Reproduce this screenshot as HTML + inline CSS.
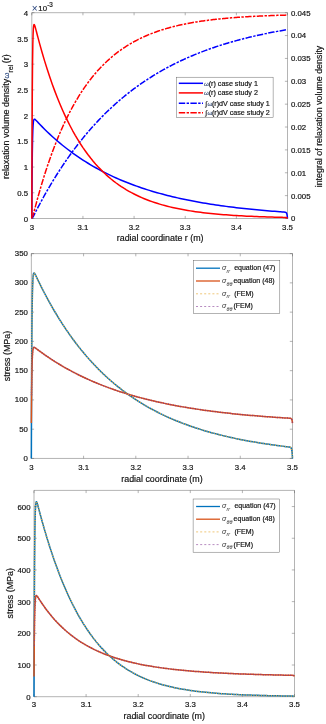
<!DOCTYPE html><html><head><meta charset="utf-8"><title>figure</title><style>html,body{margin:0;padding:0;background:#fff}svg{display:block}</style></head><body><svg width="326" height="724" viewBox="0 0 326 724" font-family='"Liberation Sans", sans-serif' stroke-linecap="butt"><style>text{stroke:#111;stroke-width:0.18px;paint-order:stroke}</style><defs><clipPath id="c1"><rect x="31.8" y="12.7" width="255.7" height="205.8"/></clipPath></defs><rect width="326" height="724" fill="#fff"/><rect x="31.8" y="12.7" width="255.7" height="205.8" fill="#fff" stroke="none"/>
<g clip-path="url(#c1)" fill="none" stroke-linejoin="round">
<path d="M31.80,218.50 L33.08,216.85 L34.36,214.39 L35.64,211.89 L36.91,209.42 L38.19,206.97 L39.47,204.56 L40.75,202.17 L42.03,199.82 L43.31,197.49 L44.58,195.20 L45.86,192.93 L47.14,190.69 L48.42,188.48 L49.70,186.29 L50.98,184.13 L52.26,182.00 L53.53,179.90 L54.81,177.82 L56.09,175.77 L57.37,173.74 L58.65,171.74 L59.93,169.76 L61.21,167.81 L62.48,165.88 L63.76,163.98 L65.04,162.10 L66.32,160.24 L67.60,158.41 L68.88,156.60 L70.16,154.81 L71.43,153.04 L72.71,151.30 L73.99,149.57 L75.27,147.87 L76.55,146.19 L77.83,144.53 L79.10,142.90 L80.38,141.28 L81.66,139.68 L82.94,138.10 L84.22,136.54 L85.50,135.00 L86.78,133.48 L88.05,131.98 L89.33,130.50 L90.61,129.03 L91.89,127.59 L93.17,126.16 L94.45,124.75 L95.72,123.36 L97.00,121.98 L98.28,120.62 L99.56,119.28 L100.84,117.95 L102.12,116.65 L103.40,115.35 L104.67,114.08 L105.95,112.82 L107.23,111.57 L108.51,110.34 L109.79,109.13 L111.07,107.93 L112.35,106.75 L113.62,105.58 L114.90,104.42 L116.18,103.28 L117.46,102.15 L118.74,101.04 L120.02,99.94 L121.29,98.86 L122.57,97.79 L123.85,96.73 L125.13,95.68 L126.41,94.65 L127.69,93.63 L128.97,92.63 L130.24,91.63 L131.52,90.65 L132.80,89.68 L134.08,88.72 L135.36,87.78 L136.64,86.85 L137.92,85.92 L139.19,85.01 L140.47,84.11 L141.75,83.23 L143.03,82.35 L144.31,81.48 L145.59,80.63 L146.87,79.78 L148.14,78.95 L149.42,78.12 L150.70,77.31 L151.98,76.51 L153.26,75.71 L154.54,74.93 L155.81,74.15 L157.09,73.39 L158.37,72.63 L159.65,71.89 L160.93,71.15 L162.21,70.43 L163.49,69.71 L164.76,69.00 L166.04,68.30 L167.32,67.61 L168.60,66.92 L169.88,66.25 L171.16,65.58 L172.43,64.92 L173.71,64.27 L174.99,63.63 L176.27,63.00 L177.55,62.37 L178.83,61.75 L180.11,61.14 L181.38,60.54 L182.66,59.95 L183.94,59.36 L185.22,58.78 L186.50,58.20 L187.78,57.64 L189.06,57.08 L190.33,56.53 L191.61,55.98 L192.89,55.44 L194.17,54.91 L195.45,54.38 L196.73,53.87 L198.01,53.35 L199.28,52.85 L200.56,52.35 L201.84,51.85 L203.12,51.37 L204.40,50.88 L205.68,50.41 L206.95,49.94 L208.23,49.48 L209.51,49.02 L210.79,48.57 L212.07,48.12 L213.35,47.68 L214.63,47.24 L215.90,46.81 L217.18,46.39 L218.46,45.97 L219.74,45.55 L221.02,45.14 L222.30,44.74 L223.57,44.34 L224.85,43.95 L226.13,43.56 L227.41,43.17 L228.69,42.79 L229.97,42.42 L231.25,42.05 L232.52,41.68 L233.80,41.32 L235.08,40.97 L236.36,40.61 L237.64,40.27 L238.92,39.92 L240.20,39.58 L241.47,39.25 L242.75,38.92 L244.03,38.59 L245.31,38.27 L246.59,37.95 L247.87,37.63 L249.14,37.32 L250.42,37.02 L251.70,36.71 L252.98,36.41 L254.26,36.12 L255.54,35.83 L256.82,35.54 L258.09,35.25 L259.37,34.97 L260.65,34.69 L261.93,34.42 L263.21,34.15 L264.49,33.88 L265.77,33.62 L267.04,33.36 L268.32,33.10 L269.60,32.84 L270.88,32.59 L272.16,32.34 L273.44,32.10 L274.72,31.86 L275.99,31.62 L277.27,31.38 L278.55,31.15 L279.83,30.92 L281.11,30.69 L282.39,30.47 L283.66,30.25 L284.94,30.03 L286.22,29.81 L287.50,29.60" stroke="#0000ff" stroke-width="1.5" stroke-dasharray="6.4 1.4 2.4 1.4"/>
<path d="M31.80,218.50 L33.08,215.28 L34.36,210.45 L35.64,205.61 L36.91,200.87 L38.19,196.25 L39.47,191.74 L40.75,187.34 L42.03,183.05 L43.31,178.87 L44.58,174.79 L45.86,170.82 L47.14,166.94 L48.42,163.15 L49.70,159.46 L50.98,155.86 L52.26,152.35 L53.53,148.93 L54.81,145.59 L56.09,142.33 L57.37,139.15 L58.65,136.05 L59.93,133.03 L61.21,130.08 L62.48,127.21 L63.76,124.41 L65.04,121.67 L66.32,119.01 L67.60,116.41 L68.88,113.87 L70.16,111.39 L71.43,108.98 L72.71,106.63 L73.99,104.33 L75.27,102.09 L76.55,99.91 L77.83,97.78 L79.10,95.70 L80.38,93.68 L81.66,91.70 L82.94,89.78 L84.22,87.90 L85.50,86.06 L86.78,84.28 L88.05,82.53 L89.33,80.83 L90.61,79.18 L91.89,77.56 L93.17,75.98 L94.45,74.44 L95.72,72.94 L97.00,71.48 L98.28,70.05 L99.56,68.66 L100.84,67.30 L102.12,65.98 L103.40,64.68 L104.67,63.42 L105.95,62.20 L107.23,61.00 L108.51,59.83 L109.79,58.69 L111.07,57.58 L112.35,56.49 L113.62,55.44 L114.90,54.40 L116.18,53.40 L117.46,52.42 L118.74,51.46 L120.02,50.53 L121.29,49.62 L122.57,48.73 L123.85,47.86 L125.13,47.02 L126.41,46.20 L127.69,45.39 L128.97,44.61 L130.24,43.85 L131.52,43.10 L132.80,42.37 L134.08,41.67 L135.36,40.97 L136.64,40.30 L137.92,39.64 L139.19,39.00 L140.47,38.38 L141.75,37.76 L143.03,37.17 L144.31,36.59 L145.59,36.02 L146.87,35.47 L148.14,34.93 L149.42,34.41 L150.70,33.90 L151.98,33.40 L153.26,32.91 L154.54,32.43 L155.81,31.97 L157.09,31.52 L158.37,31.08 L159.65,30.65 L160.93,30.23 L162.21,29.82 L163.49,29.42 L164.76,29.03 L166.04,28.65 L167.32,28.28 L168.60,27.92 L169.88,27.57 L171.16,27.23 L172.43,26.89 L173.71,26.56 L174.99,26.25 L176.27,25.94 L177.55,25.63 L178.83,25.34 L180.11,25.05 L181.38,24.77 L182.66,24.49 L183.94,24.23 L185.22,23.97 L186.50,23.71 L187.78,23.46 L189.06,23.22 L190.33,22.99 L191.61,22.76 L192.89,22.53 L194.17,22.31 L195.45,22.10 L196.73,21.89 L198.01,21.69 L199.28,21.49 L200.56,21.30 L201.84,21.11 L203.12,20.92 L204.40,20.74 L205.68,20.57 L206.95,20.40 L208.23,20.23 L209.51,20.07 L210.79,19.91 L212.07,19.76 L213.35,19.61 L214.63,19.46 L215.90,19.32 L217.18,19.18 L218.46,19.04 L219.74,18.91 L221.02,18.78 L222.30,18.65 L223.57,18.53 L224.85,18.41 L226.13,18.29 L227.41,18.18 L228.69,18.07 L229.97,17.96 L231.25,17.85 L232.52,17.75 L233.80,17.65 L235.08,17.55 L236.36,17.45 L237.64,17.36 L238.92,17.27 L240.20,17.18 L241.47,17.09 L242.75,17.01 L244.03,16.93 L245.31,16.85 L246.59,16.77 L247.87,16.69 L249.14,16.62 L250.42,16.54 L251.70,16.47 L252.98,16.40 L254.26,16.34 L255.54,16.27 L256.82,16.21 L258.09,16.14 L259.37,16.08 L260.65,16.02 L261.93,15.96 L263.21,15.91 L264.49,15.85 L265.77,15.80 L267.04,15.74 L268.32,15.69 L269.60,15.64 L270.88,15.59 L272.16,15.55 L273.44,15.50 L274.72,15.46 L275.99,15.41 L277.27,15.37 L278.55,15.33 L279.83,15.28 L281.11,15.24 L282.39,15.21 L283.66,15.17 L284.94,15.13 L286.22,15.09 L287.50,15.06" stroke="#ff0000" stroke-width="1.5" stroke-dasharray="6.4 1.4 2.4 1.4"/>
</g>
<path d="M31.8,12.7 H287.5 V218.5 H31.8 Z M31.80,218.5 v-2.6 M31.80,12.7 v2.6 M82.94,218.5 v-2.6 M82.94,12.7 v2.6 M134.08,218.5 v-2.6 M134.08,12.7 v2.6 M185.22,218.5 v-2.6 M185.22,12.7 v2.6 M236.36,218.5 v-2.6 M236.36,12.7 v2.6 M287.50,218.5 v-2.6 M287.50,12.7 v2.6 M31.8,218.50 h2.6 M31.8,192.78 h2.6 M31.8,167.05 h2.6 M31.8,141.32 h2.6 M31.8,115.60 h2.6 M31.8,89.88 h2.6 M31.8,64.15 h2.6 M31.8,38.42 h2.6 M31.8,12.70 h2.6 M287.5,218.50 h-2.6 M287.5,195.63 h-2.6 M287.5,172.77 h-2.6 M287.5,149.90 h-2.6 M287.5,127.03 h-2.6 M287.5,104.17 h-2.6 M287.5,81.30 h-2.6 M287.5,58.43 h-2.6 M287.5,35.57 h-2.6 M287.5,12.70 h-2.6" fill="none" stroke="#585858" stroke-width="0.45"/>
<g fill="none" stroke-linejoin="round">
<path d="M31.80,218.50 L32.06,178.13 L32.31,153.82 L32.57,139.24 L32.82,130.53 L33.08,125.38 L33.33,122.37 L33.59,120.67 L33.85,119.75 L34.10,119.30 L34.36,119.15 L34.61,119.16 L34.87,119.29 L35.12,119.47 L35.38,119.69 L35.64,119.94 L35.89,120.19 L36.15,120.46 L36.40,120.73 L36.66,121.00 L36.91,121.27 L37.17,121.55 L37.43,121.82 L37.68,122.09 L37.94,122.36 L39.47,123.98 L42.03,126.62 L44.58,129.19 L47.14,131.68 L49.70,134.10 L52.26,136.46 L54.81,138.74 L57.37,140.97 L59.93,143.13 L62.48,145.23 L65.04,147.27 L67.60,149.26 L70.16,151.19 L72.71,153.06 L75.27,154.88 L77.83,156.65 L80.38,158.38 L82.94,160.05 L85.50,161.68 L88.05,163.26 L90.61,164.79 L93.17,166.29 L95.72,167.74 L98.28,169.15 L100.84,170.52 L103.40,171.86 L105.95,173.15 L108.51,174.41 L111.07,175.64 L113.62,176.83 L116.18,177.98 L118.74,179.11 L121.29,180.20 L123.85,181.27 L126.41,182.30 L128.97,183.30 L131.52,184.28 L134.08,185.23 L136.64,186.15 L139.19,187.05 L141.75,187.92 L144.31,188.77 L146.87,189.59 L149.42,190.39 L151.98,191.17 L154.54,191.93 L157.09,192.66 L159.65,193.38 L162.21,194.08 L164.76,194.75 L167.32,195.41 L169.88,196.05 L172.43,196.67 L174.99,197.27 L177.55,197.86 L180.11,198.43 L182.66,198.99 L185.22,199.52 L187.78,200.05 L190.33,200.56 L192.89,201.05 L195.45,201.54 L198.01,202.01 L200.56,202.46 L203.12,202.90 L205.68,203.33 L208.23,203.75 L210.79,204.16 L213.35,204.56 L215.90,204.94 L218.46,205.31 L221.02,205.68 L223.57,206.03 L226.13,206.38 L228.69,206.71 L231.25,207.03 L233.80,207.35 L236.36,207.66 L238.92,207.96 L241.47,208.25 L244.03,208.53 L246.59,208.80 L249.14,209.07 L251.70,209.33 L254.26,209.58 L256.82,209.83 L259.37,210.07 L261.93,210.30 L264.49,210.52 L267.04,210.74 L269.60,210.96 L272.16,211.16 L274.71,211.37 L277.27,211.56 L279.83,211.75 L281.36,211.87 L281.62,211.88 L281.87,211.90 L282.13,211.92 L282.39,211.94 L282.64,211.96 L282.90,211.98 L283.15,211.99 L283.41,212.01 L283.66,212.03 L283.92,212.05 L284.18,212.08 L284.43,212.10 L284.69,212.13 L284.94,212.16 L285.20,212.21 L285.45,212.27 L285.71,212.36 L285.97,212.50 L286.22,212.72 L286.48,213.07 L286.73,213.64 L286.99,214.56 L287.24,216.05 L287.50,218.50" stroke="#0000ff" stroke-width="1.5"/>
<path d="M31.80,218.50 L32.06,137.95 L32.31,89.79 L32.57,61.16 L32.82,44.31 L33.08,34.56 L33.33,29.10 L33.59,26.23 L33.85,24.91 L34.10,24.52 L34.36,24.70 L34.61,25.22 L34.87,25.94 L35.12,26.77 L35.38,27.68 L35.64,28.63 L35.89,29.60 L36.15,30.58 L36.40,31.56 L36.66,32.54 L36.91,33.53 L37.17,34.51 L37.43,35.48 L37.68,36.46 L37.94,37.42 L39.47,43.12 L42.03,52.23 L44.58,60.86 L47.14,69.04 L49.70,76.80 L52.26,84.15 L54.81,91.13 L57.37,97.74 L59.93,104.00 L62.48,109.94 L65.04,115.57 L67.60,120.91 L70.16,125.97 L72.71,130.77 L75.27,135.32 L77.83,139.63 L80.38,143.72 L82.94,147.60 L85.50,151.27 L88.05,154.76 L90.61,158.06 L93.17,161.19 L95.72,164.16 L98.28,166.98 L100.84,169.64 L103.40,172.17 L105.95,174.57 L108.51,176.85 L111.07,179.01 L113.62,181.05 L116.18,182.99 L118.74,184.83 L121.29,186.57 L123.85,188.22 L126.41,189.79 L128.97,191.28 L131.52,192.69 L134.08,194.02 L136.64,195.29 L139.19,196.49 L141.75,197.63 L144.31,198.71 L146.87,199.73 L149.42,200.70 L151.98,201.62 L154.54,202.49 L157.09,203.32 L159.65,204.11 L162.21,204.85 L164.76,205.56 L167.32,206.22 L169.88,206.86 L172.43,207.46 L174.99,208.03 L177.55,208.57 L180.11,209.08 L182.66,209.57 L185.22,210.03 L187.78,210.47 L190.33,210.88 L192.89,211.28 L195.45,211.65 L198.01,212.00 L200.56,212.34 L203.12,212.66 L205.68,212.96 L208.23,213.24 L210.79,213.52 L213.35,213.77 L215.90,214.02 L218.46,214.25 L221.02,214.47 L223.57,214.68 L226.13,214.87 L228.69,215.06 L231.25,215.24 L233.80,215.41 L236.36,215.57 L238.92,215.72 L241.47,215.86 L244.03,216.00 L246.59,216.13 L249.14,216.25 L251.70,216.36 L254.26,216.47 L256.82,216.58 L259.37,216.68 L261.93,216.77 L264.49,216.86 L267.04,216.94 L269.60,217.02 L272.16,217.10 L274.71,217.17 L277.27,217.24 L279.83,217.31 L281.36,217.34 L281.62,217.35 L281.87,217.36 L282.13,217.36 L282.39,217.37 L282.64,217.37 L282.90,217.38 L283.15,217.39 L283.41,217.39 L283.66,217.40 L283.92,217.40 L284.18,217.41 L284.43,217.42 L284.69,217.42 L284.94,217.43 L285.20,217.44 L285.45,217.46 L285.71,217.47 L285.97,217.50 L286.22,217.54 L286.48,217.60 L286.73,217.70 L286.99,217.85 L287.24,218.10 L287.50,218.50" stroke="#ff0000" stroke-width="1.5"/>
</g>
<text x="31.80" y="229.80" font-size="7.8" text-anchor="middle" fill="#111" >3</text>
<text x="82.94" y="229.80" font-size="7.8" text-anchor="middle" fill="#111" >3.1</text>
<text x="134.08" y="229.80" font-size="7.8" text-anchor="middle" fill="#111" >3.2</text>
<text x="185.22" y="229.80" font-size="7.8" text-anchor="middle" fill="#111" >3.3</text>
<text x="236.36" y="229.80" font-size="7.8" text-anchor="middle" fill="#111" >3.4</text>
<text x="287.50" y="229.80" font-size="7.8" text-anchor="middle" fill="#111" >3.5</text>
<text x="28.00" y="221.60" font-size="7.8" text-anchor="end" fill="#111" >0</text>
<text x="28.00" y="195.88" font-size="7.8" text-anchor="end" fill="#111" >0.5</text>
<text x="28.00" y="170.15" font-size="7.8" text-anchor="end" fill="#111" >1</text>
<text x="28.00" y="144.42" font-size="7.8" text-anchor="end" fill="#111" >1.5</text>
<text x="28.00" y="118.70" font-size="7.8" text-anchor="end" fill="#111" >2</text>
<text x="28.00" y="92.97" font-size="7.8" text-anchor="end" fill="#111" >2.5</text>
<text x="28.00" y="67.25" font-size="7.8" text-anchor="end" fill="#111" >3</text>
<text x="28.00" y="41.52" font-size="7.8" text-anchor="end" fill="#111" >3.5</text>
<text x="28.00" y="15.80" font-size="7.8" text-anchor="end" fill="#111" >4</text>
<text x="291.00" y="221.40" font-size="7.8" text-anchor="start" fill="#111" >0</text>
<text x="291.00" y="198.53" font-size="7.8" text-anchor="start" fill="#111" >0.005</text>
<text x="291.00" y="175.67" font-size="7.8" text-anchor="start" fill="#111" >0.01</text>
<text x="291.00" y="152.80" font-size="7.8" text-anchor="start" fill="#111" >0.015</text>
<text x="291.00" y="129.93" font-size="7.8" text-anchor="start" fill="#111" >0.02</text>
<text x="291.00" y="107.07" font-size="7.8" text-anchor="start" fill="#111" >0.025</text>
<text x="291.00" y="84.20" font-size="7.8" text-anchor="start" fill="#111" >0.03</text>
<text x="291.00" y="61.33" font-size="7.8" text-anchor="start" fill="#111" >0.035</text>
<text x="291.00" y="38.47" font-size="7.8" text-anchor="start" fill="#111" >0.04</text>
<text x="291.00" y="15.60" font-size="7.8" text-anchor="start" fill="#111" >0.045</text>
<text y="10.7" font-size="7.8" fill="#111"><tspan x="31.7" y="12.4" font-size="10" style="fill:#24407a;stroke:none">×</tspan><tspan x="38.3" y="10.7">10</tspan><tspan x="47.2" y="6.6" font-size="6.3">-3</tspan></text>
<text x="160.15" y="241.00" font-size="8.9" text-anchor="middle" fill="#111" >radial coordinate r (m)</text>
<text transform="translate(9.2,179.0) rotate(-90)" font-size="8.9" fill="#111"><tspan x="0" y="0">relaxation volume density</tspan><tspan x="100.6" y="0" font-size="7.6" style="fill:#2c4a80;stroke:#2c4a80">ω</tspan><tspan x="106.2" y="3.7" font-size="7.4">rel</tspan><tspan x="115.8" y="0">(r)</tspan></text>
<text transform="translate(322.3,116.5) rotate(-90)" font-size="8.9" fill="#111" text-anchor="middle">integral of relaxation volume density</text>
<rect x="176.3" y="77.2" width="96.80000000000001" height="40.5" fill="#fff" stroke="#585858" stroke-width="0.45"/>
<path d="M178.8,83.3 H203.0" stroke="#0000ff" stroke-width="1.5" fill="none" stroke-dasharray=""/>
<text x="204.00" y="85.80" font-size="7.15" text-anchor="start" fill="#111" ><tspan x="204.0" font-size="6.2" style="fill:#44587e;stroke:#44587e">ω</tspan><tspan x="208.7">(r) case study 1</tspan></text>
<path d="M178.8,92.9 H203.0" stroke="#ff0000" stroke-width="1.5" fill="none" stroke-dasharray=""/>
<text x="204.00" y="95.40" font-size="7.15" text-anchor="start" fill="#111" ><tspan x="204.0" font-size="6.2" style="fill:#44587e;stroke:#44587e">ω</tspan><tspan x="208.7">(r) case study 2</tspan></text>
<path d="M178.8,103.2 H203.0" stroke="#0000ff" stroke-width="1.5" fill="none" stroke-dasharray="6.4 1.4 2.4 1.4"/>
<text x="204.00" y="105.70" font-size="7.15" text-anchor="start" fill="#111" ><tspan x="205.6" font-style="italic" font-size="6.6">∫</tspan><tspan x="207.6" font-size="6.2" style="fill:#44587e;stroke:#44587e">ω</tspan><tspan x="211.9">(r)dV case study 1</tspan></text>
<path d="M178.8,112.8 H203.0" stroke="#ff0000" stroke-width="1.5" fill="none" stroke-dasharray="6.4 1.4 2.4 1.4"/>
<text x="204.00" y="115.30" font-size="7.15" text-anchor="start" fill="#111" ><tspan x="205.6" font-style="italic" font-size="6.6">∫</tspan><tspan x="207.6" font-size="6.2" style="fill:#44587e;stroke:#44587e">ω</tspan><tspan x="211.9">(r)dV case study 2</tspan></text>
<rect x="31.35" y="253.6" width="261.15" height="204.85" fill="#fff" stroke="none"/>
<path d="M31.35,253.6 H292.5 V458.45 H31.35 Z M31.35,458.45 v-2.7 M31.35,253.6 v2.7 M83.58,458.45 v-2.7 M83.58,253.6 v2.7 M135.81,458.45 v-2.7 M135.81,253.6 v2.7 M188.04,458.45 v-2.7 M188.04,253.6 v2.7 M240.27,458.45 v-2.7 M240.27,253.6 v2.7 M292.50,458.45 v-2.7 M292.50,253.6 v2.7 M31.35,458.45 h2.7 M31.35,429.19 h2.7 M31.35,399.92 h2.7 M31.35,370.66 h2.7 M31.35,341.39 h2.7 M31.35,312.13 h2.7 M31.35,282.86 h2.7 M31.35,253.60 h2.7 M292.5,458.45 h-2.7 M292.5,429.19 h-2.7 M292.5,399.92 h-2.7 M292.5,370.66 h-2.7 M292.5,341.39 h-2.7 M292.5,312.13 h-2.7 M292.5,282.86 h-2.7 M292.5,253.60 h-2.7" fill="none" stroke="#585858" stroke-width="0.45"/>
<g fill="none" stroke-linejoin="round">
<path d="M31.35,458.45 L31.61,382.94 L31.87,337.51 L32.13,310.26 L32.39,294.02 L32.66,284.42 L32.92,278.84 L33.18,275.69 L33.44,274.01 L33.70,273.22 L33.96,272.96 L34.22,273.03 L34.48,273.29 L34.74,273.67 L35.01,274.12 L35.27,274.61 L35.53,275.13 L35.79,275.66 L36.05,276.20 L36.31,276.74 L36.57,277.28 L36.83,277.83 L37.10,278.37 L37.36,278.92 L37.62,279.46 L39.18,282.68 L41.80,287.91 L44.41,292.98 L47.02,297.89 L49.63,302.66 L52.24,307.27 L54.85,311.75 L57.47,316.09 L60.08,320.29 L62.69,324.37 L65.30,328.32 L67.91,332.15 L70.52,335.87 L73.13,339.47 L75.75,342.96 L78.36,346.34 L80.97,349.62 L83.58,352.80 L86.19,355.89 L88.80,358.88 L91.41,361.78 L94.03,364.60 L96.64,367.32 L99.25,369.97 L101.86,372.54 L104.47,375.03 L107.08,377.44 L109.69,379.78 L112.31,382.05 L114.92,384.25 L117.53,386.39 L120.14,388.46 L122.75,390.47 L125.36,392.42 L127.98,394.32 L130.59,396.15 L133.20,397.93 L135.81,399.66 L138.42,401.34 L141.03,402.96 L143.64,404.54 L146.26,406.07 L148.87,407.56 L151.48,409.00 L154.09,410.40 L156.70,411.76 L159.31,413.08 L161.92,414.36 L164.54,415.60 L167.15,416.81 L169.76,417.98 L172.37,419.11 L174.98,420.21 L177.59,421.28 L180.21,422.32 L182.82,423.33 L185.43,424.31 L188.04,425.26 L190.65,426.18 L193.26,427.08 L195.87,427.95 L198.49,428.79 L201.10,429.61 L203.71,430.41 L206.32,431.18 L208.93,431.94 L211.54,432.67 L214.16,433.37 L216.77,434.06 L219.38,434.73 L221.99,435.38 L224.60,436.01 L227.21,436.62 L229.82,437.22 L232.44,437.79 L235.05,438.36 L237.66,438.90 L240.27,439.43 L242.88,439.95 L245.49,440.45 L248.10,440.93 L250.72,441.40 L253.33,441.86 L255.94,442.31 L258.55,442.74 L261.16,443.16 L263.77,443.57 L266.38,443.97 L269.00,444.36 L271.61,444.73 L274.22,445.10 L276.83,445.45 L279.44,445.80 L282.05,446.13 L284.67,446.46 L286.23,446.65 L286.49,446.68 L286.75,446.71 L287.02,446.74 L287.28,446.77 L287.54,446.81 L287.80,446.84 L288.06,446.87 L288.32,446.90 L288.58,446.94 L288.84,446.97 L289.11,447.01 L289.37,447.05 L289.63,447.10 L289.89,447.16 L290.15,447.24 L290.41,447.35 L290.67,447.51 L290.93,447.76 L291.19,448.15 L291.46,448.78 L291.72,449.78 L291.98,451.42 L292.24,454.08 L292.50,458.45" stroke="#0072BD" stroke-width="1.5"/>
<path d="M31.35,423.04 L31.61,392.46 L31.87,373.99 L32.13,362.87 L32.39,356.21 L32.66,352.25 L32.92,349.93 L33.18,348.60 L33.44,347.88 L33.70,347.52 L33.96,347.38 L34.22,347.37 L34.48,347.45 L34.74,347.58 L35.01,347.73 L35.27,347.90 L35.53,348.09 L35.79,348.28 L36.05,348.47 L36.31,348.67 L36.57,348.86 L36.83,349.06 L37.10,349.26 L37.36,349.45 L37.62,349.65 L39.18,350.82 L41.80,352.72 L44.41,354.58 L47.02,356.39 L49.63,358.15 L52.24,359.86 L54.85,361.53 L57.47,363.16 L60.08,364.74 L62.69,366.29 L65.30,367.79 L67.91,369.26 L70.52,370.68 L73.13,372.07 L75.75,373.42 L78.36,374.74 L80.97,376.02 L83.58,377.27 L86.19,378.49 L88.80,379.68 L91.41,380.83 L94.03,381.95 L96.64,383.05 L99.25,384.12 L101.86,385.16 L104.47,386.17 L107.08,387.15 L109.69,388.11 L112.31,389.05 L114.92,389.96 L117.53,390.85 L120.14,391.71 L122.75,392.55 L125.36,393.37 L127.98,394.17 L130.59,394.95 L133.20,395.70 L135.81,396.44 L138.42,397.16 L141.03,397.86 L143.64,398.54 L146.26,399.20 L148.87,399.85 L151.48,400.48 L154.09,401.09 L156.70,401.69 L159.31,402.27 L161.92,402.84 L164.54,403.39 L167.15,403.93 L169.76,404.45 L172.37,404.96 L174.98,405.46 L177.59,405.94 L180.21,406.41 L182.82,406.87 L185.43,407.32 L188.04,407.75 L190.65,408.18 L193.26,408.59 L195.87,408.99 L198.49,409.38 L201.10,409.76 L203.71,410.14 L206.32,410.50 L208.93,410.85 L211.54,411.19 L214.16,411.53 L216.77,411.85 L219.38,412.17 L221.99,412.48 L224.60,412.78 L227.21,413.07 L229.82,413.36 L232.44,413.64 L235.05,413.91 L237.66,414.17 L240.27,414.43 L242.88,414.68 L245.49,414.92 L248.10,415.16 L250.72,415.39 L253.33,415.61 L255.94,415.83 L258.55,416.05 L261.16,416.26 L263.77,416.46 L266.38,416.65 L269.00,416.85 L271.61,417.03 L274.22,417.22 L276.83,417.39 L279.44,417.57 L282.05,417.74 L284.67,417.90 L286.23,418.00 L286.49,418.01 L286.75,418.03 L287.02,418.04 L287.28,418.06 L287.54,418.07 L287.80,418.09 L288.06,418.11 L288.32,418.12 L288.58,418.14 L288.84,418.16 L289.11,418.18 L289.37,418.20 L289.63,418.22 L289.89,418.25 L290.15,418.28 L290.41,418.33 L290.67,418.40 L290.93,418.51 L291.19,418.67 L291.46,418.94 L291.72,419.36 L291.98,420.06 L292.24,421.19 L292.50,423.04" stroke="#D95319" stroke-width="1.5"/>
<path d="M31.57,395.24 L31.61,382.94 L31.87,337.51 L32.13,310.26 L32.39,294.02 L32.66,284.42 L32.92,278.84 L33.18,275.69 L33.44,274.01 L33.70,273.22 L33.96,272.96 L34.22,273.03 L34.48,273.29 L34.74,273.67 L35.01,274.12 L35.27,274.61 L35.53,275.13 L35.79,275.66 L36.05,276.20 L36.31,276.74 L36.57,277.28 L36.83,277.83 L37.10,278.37 L37.36,278.92 L37.62,279.46 L39.18,282.68 L41.80,287.91 L44.41,292.98 L47.02,297.89 L49.63,302.66 L52.24,307.27 L54.85,311.75 L57.47,316.09 L60.08,320.29 L62.69,324.37 L65.30,328.32 L67.91,332.15 L70.52,335.87 L73.13,339.47 L75.75,342.96 L78.36,346.34 L80.97,349.62 L83.58,352.80 L86.19,355.89 L88.80,358.88 L91.41,361.78 L94.03,364.60 L96.64,367.32 L99.25,369.97 L101.86,372.54 L104.47,375.03 L107.08,377.44 L109.69,379.78 L112.31,382.05 L114.92,384.25 L117.53,386.39 L120.14,388.46 L122.75,390.47 L125.36,392.42 L127.98,394.32 L130.59,396.15 L133.20,397.93 L135.81,399.66 L138.42,401.34 L141.03,402.96 L143.64,404.54 L146.26,406.07 L148.87,407.56 L151.48,409.00 L154.09,410.40 L156.70,411.76 L159.31,413.08 L161.92,414.36 L164.54,415.60 L167.15,416.81 L169.76,417.98 L172.37,419.11 L174.98,420.21 L177.59,421.28 L180.21,422.32 L182.82,423.33 L185.43,424.31 L188.04,425.26 L190.65,426.18 L193.26,427.08 L195.87,427.95 L198.49,428.79 L201.10,429.61 L203.71,430.41 L206.32,431.18 L208.93,431.94 L211.54,432.67 L214.16,433.37 L216.77,434.06 L219.38,434.73 L221.99,435.38 L224.60,436.01 L227.21,436.62 L229.82,437.22 L232.44,437.79 L235.05,438.36 L237.66,438.90 L240.27,439.43 L242.88,439.95 L245.49,440.45 L248.10,440.93 L250.72,441.40 L253.33,441.86 L255.94,442.31 L258.55,442.74 L261.16,443.16 L263.77,443.57 L266.38,443.97 L269.00,444.36 L271.61,444.73 L274.22,445.10 L276.83,445.45 L279.44,445.80 L282.05,446.13 L284.67,446.46 L286.23,446.65 L286.49,446.68 L286.75,446.71 L287.02,446.74 L287.28,446.77 L287.54,446.81 L287.80,446.84 L288.06,446.87 L288.32,446.90 L288.58,446.94 L288.84,446.97 L289.11,447.01 L289.37,447.05 L289.63,447.10 L289.89,447.16 L290.15,447.24 L290.41,447.35 L290.67,447.51 L290.93,447.76 L291.19,448.15 L291.46,448.78 L291.72,449.78 L291.98,451.42 L292.24,454.08 L292.50,458.45" stroke="#E8AC38" stroke-width="1.5" stroke-dasharray="1 1.5" stroke-opacity="0.95"/>
<path d="M31.59,395.24 L31.61,392.46 L31.87,373.99 L32.13,362.87 L32.39,356.21 L32.66,352.25 L32.92,349.93 L33.18,348.60 L33.44,347.88 L33.70,347.52 L33.96,347.38 L34.22,347.37 L34.48,347.45 L34.74,347.58 L35.01,347.73 L35.27,347.90 L35.53,348.09 L35.79,348.28 L36.05,348.47 L36.31,348.67 L36.57,348.86 L36.83,349.06 L37.10,349.26 L37.36,349.45 L37.62,349.65 L39.18,350.82 L41.80,352.72 L44.41,354.58 L47.02,356.39 L49.63,358.15 L52.24,359.86 L54.85,361.53 L57.47,363.16 L60.08,364.74 L62.69,366.29 L65.30,367.79 L67.91,369.26 L70.52,370.68 L73.13,372.07 L75.75,373.42 L78.36,374.74 L80.97,376.02 L83.58,377.27 L86.19,378.49 L88.80,379.68 L91.41,380.83 L94.03,381.95 L96.64,383.05 L99.25,384.12 L101.86,385.16 L104.47,386.17 L107.08,387.15 L109.69,388.11 L112.31,389.05 L114.92,389.96 L117.53,390.85 L120.14,391.71 L122.75,392.55 L125.36,393.37 L127.98,394.17 L130.59,394.95 L133.20,395.70 L135.81,396.44 L138.42,397.16 L141.03,397.86 L143.64,398.54 L146.26,399.20 L148.87,399.85 L151.48,400.48 L154.09,401.09 L156.70,401.69 L159.31,402.27 L161.92,402.84 L164.54,403.39 L167.15,403.93 L169.76,404.45 L172.37,404.96 L174.98,405.46 L177.59,405.94 L180.21,406.41 L182.82,406.87 L185.43,407.32 L188.04,407.75 L190.65,408.18 L193.26,408.59 L195.87,408.99 L198.49,409.38 L201.10,409.76 L203.71,410.14 L206.32,410.50 L208.93,410.85 L211.54,411.19 L214.16,411.53 L216.77,411.85 L219.38,412.17 L221.99,412.48 L224.60,412.78 L227.21,413.07 L229.82,413.36 L232.44,413.64 L235.05,413.91 L237.66,414.17 L240.27,414.43 L242.88,414.68 L245.49,414.92 L248.10,415.16 L250.72,415.39 L253.33,415.61 L255.94,415.83 L258.55,416.05 L261.16,416.26 L263.77,416.46 L266.38,416.65 L269.00,416.85 L271.61,417.03 L274.22,417.22 L276.83,417.39 L279.44,417.57 L282.05,417.74 L284.67,417.90 L286.23,418.00 L286.49,418.01 L286.75,418.03 L287.02,418.04 L287.28,418.06 L287.54,418.07 L287.80,418.09 L288.06,418.11 L288.32,418.12 L288.58,418.14 L288.84,418.16 L289.11,418.18 L289.37,418.20 L289.63,418.22 L289.89,418.25 L290.15,418.28 L290.41,418.33 L290.67,418.40 L290.93,418.51 L291.19,418.67 L291.46,418.94 L291.72,419.36 L291.98,420.06 L292.24,421.19 L292.50,423.04" stroke="#7E2F8E" stroke-width="1.5" stroke-dasharray="1 1.5" stroke-opacity="0.8"/>
</g>
<text x="31.35" y="469.80" font-size="7.8" text-anchor="middle" fill="#111" >3</text>
<text x="83.58" y="469.80" font-size="7.8" text-anchor="middle" fill="#111" >3.1</text>
<text x="135.81" y="469.80" font-size="7.8" text-anchor="middle" fill="#111" >3.2</text>
<text x="188.04" y="469.80" font-size="7.8" text-anchor="middle" fill="#111" >3.3</text>
<text x="240.27" y="469.80" font-size="7.8" text-anchor="middle" fill="#111" >3.4</text>
<text x="292.50" y="469.80" font-size="7.8" text-anchor="middle" fill="#111" >3.5</text>
<text x="27.85" y="460.95" font-size="7.8" text-anchor="end" fill="#111" >0</text>
<text x="27.85" y="431.69" font-size="7.8" text-anchor="end" fill="#111" >50</text>
<text x="27.85" y="402.42" font-size="7.8" text-anchor="end" fill="#111" >100</text>
<text x="27.85" y="373.16" font-size="7.8" text-anchor="end" fill="#111" >150</text>
<text x="27.85" y="343.89" font-size="7.8" text-anchor="end" fill="#111" >200</text>
<text x="27.85" y="314.63" font-size="7.8" text-anchor="end" fill="#111" >250</text>
<text x="27.85" y="285.36" font-size="7.8" text-anchor="end" fill="#111" >300</text>
<text x="27.85" y="256.10" font-size="7.8" text-anchor="end" fill="#111" >350</text>
<text x="161.93" y="481.50" font-size="8.9" text-anchor="middle" fill="#111" >radial coordinate (m)</text>
<text transform="translate(9.6,356) rotate(-90)" font-size="8.9" fill="#111" text-anchor="middle">stress (MPa)</text>
<rect x="193.3" y="260.7" width="86.5" height="52.60000000000002" fill="#fff" stroke="#585858" stroke-width="0.45"/>
<path d="M196.0,268.2 H220.0" stroke="#0072BD" stroke-width="1.3" fill="none" stroke-dasharray="" stroke-opacity="1"/>
<text y="270.10" font-size="7" fill="#111"><tspan x="222.0" font-size="7" style="font-style:italic;fill:#333;stroke:none">σ</tspan><tspan dx="0.3" dy="2.6" font-size="5.4" style="font-style:italic;fill:#333;stroke:none">rr</tspan><tspan x="234.2" dy="-2.6">equation (47)</tspan></text>
<path d="M196.0,281.0 H220.0" stroke="#D95319" stroke-width="1.3" fill="none" stroke-dasharray="" stroke-opacity="1"/>
<text y="282.90" font-size="7" fill="#111"><tspan x="222.0" font-size="7" style="font-style:italic;fill:#333;stroke:none">σ</tspan><tspan dx="0.3" dy="2.6" font-size="5.4" style="font-style:italic;fill:#333;stroke:none">θθ</tspan><tspan x="233.4" dy="-2.6">equation (48)</tspan></text>
<path d="M196.0,293.8 H220.0" stroke="#E8AC38" stroke-width="0.8" fill="none" stroke-dasharray="2 2.1" stroke-opacity="0.85"/>
<text y="295.70" font-size="7" fill="#111"><tspan x="222.0" font-size="7" style="font-style:italic;fill:#333;stroke:none">σ</tspan><tspan dx="0.3" dy="2.6" font-size="5.4" style="font-style:italic;fill:#333;stroke:none">rr</tspan><tspan x="234.2" dy="-2.6">(FEM)</tspan></text>
<path d="M196.0,306.5 H220.0" stroke="#7E2F8E" stroke-width="0.8" fill="none" stroke-dasharray="2 2.1" stroke-opacity="0.7"/>
<text y="308.40" font-size="7" fill="#111"><tspan x="222.0" font-size="7" style="font-style:italic;fill:#333;stroke:none">σ</tspan><tspan dx="0.3" dy="2.6" font-size="5.4" style="font-style:italic;fill:#333;stroke:none">θθ</tspan><tspan x="233.4" dy="-2.6">(FEM)</tspan></text>
<rect x="34.0" y="490.4" width="260.5" height="206.30000000000007" fill="#fff" stroke="none"/>
<path d="M34.0,490.4 H294.5 V696.7 H34.0 Z M34.00,696.7 v-2.7 M34.00,490.4 v2.7 M86.10,696.7 v-2.7 M86.10,490.4 v2.7 M138.20,696.7 v-2.7 M138.20,490.4 v2.7 M190.30,696.7 v-2.7 M190.30,490.4 v2.7 M242.40,696.7 v-2.7 M242.40,490.4 v2.7 M294.50,696.7 v-2.7 M294.50,490.4 v2.7 M34.0,696.70 h2.7 M34.0,665.01 h2.7 M34.0,633.32 h2.7 M34.0,601.63 h2.7 M34.0,569.94 h2.7 M34.0,538.25 h2.7 M34.0,506.56 h2.7 M294.5,696.70 h-2.7 M294.5,665.01 h-2.7 M294.5,633.32 h-2.7 M294.5,601.63 h-2.7 M294.5,569.94 h-2.7 M294.5,538.25 h-2.7 M294.5,506.56 h-2.7" fill="none" stroke="#585858" stroke-width="0.45"/>
<g fill="none" stroke-linejoin="round">
<path d="M34.00,696.70 L34.26,615.78 L34.52,567.38 L34.78,538.60 L35.04,521.65 L35.30,511.84 L35.56,506.33 L35.82,503.43 L36.08,502.08 L36.34,501.68 L36.60,501.85 L36.87,502.35 L37.13,503.06 L37.39,503.89 L37.65,504.79 L37.91,505.73 L38.17,506.69 L38.43,507.66 L38.69,508.65 L38.95,509.63 L39.21,510.61 L39.47,511.59 L39.73,512.56 L39.99,513.53 L40.25,514.50 L41.82,520.21 L44.42,529.38 L47.02,538.11 L49.63,546.43 L52.24,554.36 L54.84,561.90 L57.44,569.08 L60.05,575.91 L62.66,582.41 L65.26,588.58 L67.86,594.44 L70.47,600.01 L73.08,605.29 L75.68,610.31 L78.28,615.07 L80.89,619.59 L83.50,623.87 L86.10,627.92 L88.70,631.77 L91.31,635.41 L93.92,638.86 L96.52,642.12 L99.12,645.21 L101.73,648.13 L104.34,650.89 L106.94,653.51 L109.55,655.98 L112.15,658.31 L114.76,660.52 L117.36,662.60 L119.97,664.57 L122.57,666.43 L125.17,668.18 L127.78,669.84 L130.39,671.40 L132.99,672.87 L135.59,674.26 L138.20,675.57 L140.81,676.81 L143.41,677.98 L146.01,679.07 L148.62,680.11 L151.23,681.08 L153.83,682.00 L156.43,682.87 L159.04,683.68 L161.65,684.45 L164.25,685.17 L166.85,685.85 L169.46,686.49 L172.07,687.09 L174.67,687.66 L177.27,688.19 L179.88,688.70 L182.49,689.17 L185.09,689.61 L187.69,690.03 L190.30,690.42 L192.91,690.79 L195.51,691.14 L198.11,691.47 L200.72,691.78 L203.33,692.06 L205.93,692.34 L208.53,692.59 L211.14,692.83 L213.74,693.06 L216.35,693.27 L218.95,693.47 L221.56,693.66 L224.16,693.84 L226.77,694.00 L229.38,694.16 L231.98,694.30 L234.58,694.44 L237.19,694.57 L239.80,694.70 L242.40,694.81 L245.00,694.92 L247.61,695.02 L250.22,695.11 L252.82,695.20 L255.42,695.29 L258.03,695.37 L260.63,695.44 L263.24,695.51 L265.84,695.58 L268.45,695.64 L271.06,695.70 L273.66,695.76 L276.26,695.81 L278.87,695.86 L281.47,695.90 L284.08,695.95 L286.68,695.99 L288.25,696.01 L288.51,696.01 L288.77,696.02 L289.03,696.02 L289.29,696.03 L289.55,696.03 L289.81,696.03 L290.07,696.04 L290.33,696.04 L290.59,696.04 L290.85,696.05 L291.11,696.05 L291.37,696.06 L291.63,696.06 L291.90,696.07 L292.16,696.07 L292.42,696.08 L292.68,696.09 L292.94,696.11 L293.20,696.13 L293.46,696.17 L293.72,696.22 L293.98,696.31 L294.24,696.46 L294.50,696.70" stroke="#0072BD" stroke-width="1.5"/>
<path d="M34.00,676.42 L34.26,643.12 L34.52,623.09 L34.78,611.12 L35.04,604.04 L35.30,599.92 L35.56,597.59 L35.82,596.35 L36.08,595.77 L36.34,595.58 L36.60,595.64 L36.87,595.84 L37.13,596.13 L37.39,596.47 L37.65,596.85 L37.91,597.24 L38.17,597.63 L38.43,598.04 L38.69,598.44 L38.95,598.85 L39.21,599.26 L39.47,599.66 L39.73,600.06 L39.99,600.46 L40.25,600.86 L41.82,603.21 L44.42,606.94 L47.02,610.46 L49.63,613.79 L52.24,616.93 L54.84,619.90 L57.44,622.70 L60.05,625.35 L62.66,627.86 L65.26,630.23 L67.86,632.48 L70.47,634.60 L73.08,636.61 L75.68,638.52 L78.28,640.32 L80.89,642.03 L83.50,643.65 L86.10,645.19 L88.70,646.64 L91.31,648.02 L93.92,649.34 L96.52,650.58 L99.12,651.76 L101.73,652.88 L104.34,653.95 L106.94,654.96 L109.55,655.92 L112.15,656.83 L114.76,657.70 L117.36,658.53 L119.97,659.32 L122.57,660.07 L125.17,660.78 L127.78,661.46 L130.39,662.10 L132.99,662.72 L135.59,663.31 L138.20,663.86 L140.81,664.40 L143.41,664.91 L146.01,665.39 L148.62,665.85 L151.23,666.29 L153.83,666.72 L156.43,667.12 L159.04,667.50 L161.65,667.87 L164.25,668.22 L166.85,668.56 L169.46,668.88 L172.07,669.18 L174.67,669.48 L177.27,669.76 L179.88,670.02 L182.49,670.28 L185.09,670.53 L187.69,670.76 L190.30,670.99 L192.91,671.20 L195.51,671.41 L198.11,671.61 L200.72,671.80 L203.33,671.98 L205.93,672.16 L208.53,672.33 L211.14,672.49 L213.74,672.64 L216.35,672.79 L218.95,672.93 L221.56,673.07 L224.16,673.20 L226.77,673.33 L229.38,673.45 L231.98,673.56 L234.58,673.68 L237.19,673.78 L239.80,673.89 L242.40,673.99 L245.00,674.08 L247.61,674.18 L250.22,674.27 L252.82,674.35 L255.42,674.43 L258.03,674.51 L260.63,674.59 L263.24,674.66 L265.84,674.73 L268.45,674.80 L271.06,674.87 L273.66,674.93 L276.26,674.99 L278.87,675.05 L281.47,675.11 L284.08,675.16 L286.68,675.21 L288.25,675.24 L288.51,675.25 L288.77,675.25 L289.03,675.26 L289.29,675.26 L289.55,675.27 L289.81,675.27 L290.07,675.28 L290.33,675.28 L290.59,675.29 L290.85,675.29 L291.11,675.30 L291.37,675.31 L291.63,675.31 L291.90,675.32 L292.16,675.33 L292.42,675.34 L292.68,675.36 L292.94,675.38 L293.20,675.42 L293.46,675.48 L293.72,675.58 L293.98,675.74 L294.24,676.00 L294.50,676.42" stroke="#D95319" stroke-width="1.5"/>
<path d="M34.16,646.00 L34.26,615.78 L34.52,567.38 L34.78,538.60 L35.04,521.65 L35.30,511.84 L35.56,506.33 L35.82,503.43 L36.08,502.08 L36.34,501.68 L36.60,501.85 L36.87,502.35 L37.13,503.06 L37.39,503.89 L37.65,504.79 L37.91,505.73 L38.17,506.69 L38.43,507.66 L38.69,508.65 L38.95,509.63 L39.21,510.61 L39.47,511.59 L39.73,512.56 L39.99,513.53 L40.25,514.50 L41.82,520.21 L44.42,529.38 L47.02,538.11 L49.63,546.43 L52.24,554.36 L54.84,561.90 L57.44,569.08 L60.05,575.91 L62.66,582.41 L65.26,588.58 L67.86,594.44 L70.47,600.01 L73.08,605.29 L75.68,610.31 L78.28,615.07 L80.89,619.59 L83.50,623.87 L86.10,627.92 L88.70,631.77 L91.31,635.41 L93.92,638.86 L96.52,642.12 L99.12,645.21 L101.73,648.13 L104.34,650.89 L106.94,653.51 L109.55,655.98 L112.15,658.31 L114.76,660.52 L117.36,662.60 L119.97,664.57 L122.57,666.43 L125.17,668.18 L127.78,669.84 L130.39,671.40 L132.99,672.87 L135.59,674.26 L138.20,675.57 L140.81,676.81 L143.41,677.98 L146.01,679.07 L148.62,680.11 L151.23,681.08 L153.83,682.00 L156.43,682.87 L159.04,683.68 L161.65,684.45 L164.25,685.17 L166.85,685.85 L169.46,686.49 L172.07,687.09 L174.67,687.66 L177.27,688.19 L179.88,688.70 L182.49,689.17 L185.09,689.61 L187.69,690.03 L190.30,690.42 L192.91,690.79 L195.51,691.14 L198.11,691.47 L200.72,691.78 L203.33,692.06 L205.93,692.34 L208.53,692.59 L211.14,692.83 L213.74,693.06 L216.35,693.27 L218.95,693.47 L221.56,693.66 L224.16,693.84 L226.77,694.00 L229.38,694.16 L231.98,694.30 L234.58,694.44 L237.19,694.57 L239.80,694.70 L242.40,694.81 L245.00,694.92 L247.61,695.02 L250.22,695.11 L252.82,695.20 L255.42,695.29 L258.03,695.37 L260.63,695.44 L263.24,695.51 L265.84,695.58 L268.45,695.64 L271.06,695.70 L273.66,695.76 L276.26,695.81 L278.87,695.86 L281.47,695.90 L284.08,695.95 L286.68,695.99 L288.25,696.01 L288.51,696.01 L288.77,696.02 L289.03,696.02 L289.29,696.03 L289.55,696.03 L289.81,696.03 L290.07,696.04 L290.33,696.04 L290.59,696.04 L290.85,696.05 L291.11,696.05 L291.37,696.06 L291.63,696.06 L291.90,696.07 L292.16,696.07 L292.42,696.08 L292.68,696.09 L292.94,696.11 L293.20,696.13 L293.46,696.17 L293.72,696.22 L293.98,696.31 L294.24,696.46 L294.50,696.70" stroke="#E8AC38" stroke-width="1.5" stroke-dasharray="1 1.5" stroke-opacity="0.95"/>
<path d="M34.24,646.00 L34.26,643.12 L34.52,623.09 L34.78,611.12 L35.04,604.04 L35.30,599.92 L35.56,597.59 L35.82,596.35 L36.08,595.77 L36.34,595.58 L36.60,595.64 L36.87,595.84 L37.13,596.13 L37.39,596.47 L37.65,596.85 L37.91,597.24 L38.17,597.63 L38.43,598.04 L38.69,598.44 L38.95,598.85 L39.21,599.26 L39.47,599.66 L39.73,600.06 L39.99,600.46 L40.25,600.86 L41.82,603.21 L44.42,606.94 L47.02,610.46 L49.63,613.79 L52.24,616.93 L54.84,619.90 L57.44,622.70 L60.05,625.35 L62.66,627.86 L65.26,630.23 L67.86,632.48 L70.47,634.60 L73.08,636.61 L75.68,638.52 L78.28,640.32 L80.89,642.03 L83.50,643.65 L86.10,645.19 L88.70,646.64 L91.31,648.02 L93.92,649.34 L96.52,650.58 L99.12,651.76 L101.73,652.88 L104.34,653.95 L106.94,654.96 L109.55,655.92 L112.15,656.83 L114.76,657.70 L117.36,658.53 L119.97,659.32 L122.57,660.07 L125.17,660.78 L127.78,661.46 L130.39,662.10 L132.99,662.72 L135.59,663.31 L138.20,663.86 L140.81,664.40 L143.41,664.91 L146.01,665.39 L148.62,665.85 L151.23,666.29 L153.83,666.72 L156.43,667.12 L159.04,667.50 L161.65,667.87 L164.25,668.22 L166.85,668.56 L169.46,668.88 L172.07,669.18 L174.67,669.48 L177.27,669.76 L179.88,670.02 L182.49,670.28 L185.09,670.53 L187.69,670.76 L190.30,670.99 L192.91,671.20 L195.51,671.41 L198.11,671.61 L200.72,671.80 L203.33,671.98 L205.93,672.16 L208.53,672.33 L211.14,672.49 L213.74,672.64 L216.35,672.79 L218.95,672.93 L221.56,673.07 L224.16,673.20 L226.77,673.33 L229.38,673.45 L231.98,673.56 L234.58,673.68 L237.19,673.78 L239.80,673.89 L242.40,673.99 L245.00,674.08 L247.61,674.18 L250.22,674.27 L252.82,674.35 L255.42,674.43 L258.03,674.51 L260.63,674.59 L263.24,674.66 L265.84,674.73 L268.45,674.80 L271.06,674.87 L273.66,674.93 L276.26,674.99 L278.87,675.05 L281.47,675.11 L284.08,675.16 L286.68,675.21 L288.25,675.24 L288.51,675.25 L288.77,675.25 L289.03,675.26 L289.29,675.26 L289.55,675.27 L289.81,675.27 L290.07,675.28 L290.33,675.28 L290.59,675.29 L290.85,675.29 L291.11,675.30 L291.37,675.31 L291.63,675.31 L291.90,675.32 L292.16,675.33 L292.42,675.34 L292.68,675.36 L292.94,675.38 L293.20,675.42 L293.46,675.48 L293.72,675.58 L293.98,675.74 L294.24,676.00 L294.50,676.42" stroke="#7E2F8E" stroke-width="1.5" stroke-dasharray="1 1.5" stroke-opacity="0.8"/>
</g>
<text x="34.00" y="707.30" font-size="7.8" text-anchor="middle" fill="#111" >3</text>
<text x="86.10" y="707.30" font-size="7.8" text-anchor="middle" fill="#111" >3.1</text>
<text x="138.20" y="707.30" font-size="7.8" text-anchor="middle" fill="#111" >3.2</text>
<text x="190.30" y="707.30" font-size="7.8" text-anchor="middle" fill="#111" >3.3</text>
<text x="242.40" y="707.30" font-size="7.8" text-anchor="middle" fill="#111" >3.4</text>
<text x="294.50" y="707.30" font-size="7.8" text-anchor="middle" fill="#111" >3.5</text>
<text x="30.50" y="699.70" font-size="7.8" text-anchor="end" fill="#111" >0</text>
<text x="30.50" y="668.01" font-size="7.8" text-anchor="end" fill="#111" >100</text>
<text x="30.50" y="636.32" font-size="7.8" text-anchor="end" fill="#111" >200</text>
<text x="30.50" y="604.63" font-size="7.8" text-anchor="end" fill="#111" >300</text>
<text x="30.50" y="572.94" font-size="7.8" text-anchor="end" fill="#111" >400</text>
<text x="30.50" y="541.25" font-size="7.8" text-anchor="end" fill="#111" >500</text>
<text x="30.50" y="509.56" font-size="7.8" text-anchor="end" fill="#111" >600</text>
<text x="164.25" y="719.30" font-size="8.9" text-anchor="middle" fill="#111" >radial coordinate (m)</text>
<text transform="translate(12.7,593.3) rotate(-90)" font-size="8.9" fill="#111" text-anchor="middle">stress (MPa)</text>
<rect x="193.1" y="499.0" width="86.20000000000002" height="53.200000000000045" fill="#fff" stroke="#585858" stroke-width="0.45"/>
<path d="M196.1,506.5 H220.0" stroke="#0072BD" stroke-width="1.3" fill="none" stroke-dasharray="" stroke-opacity="1"/>
<text y="508.40" font-size="7" fill="#111"><tspan x="222.0" font-size="7" style="font-style:italic;fill:#333;stroke:none">σ</tspan><tspan dx="0.3" dy="2.6" font-size="5.4" style="font-style:italic;fill:#333;stroke:none">rr</tspan><tspan x="234.4" dy="-2.6">equation (47)</tspan></text>
<path d="M196.1,519.2 H220.0" stroke="#D95319" stroke-width="1.3" fill="none" stroke-dasharray="" stroke-opacity="1"/>
<text y="521.10" font-size="7" fill="#111"><tspan x="222.0" font-size="7" style="font-style:italic;fill:#333;stroke:none">σ</tspan><tspan dx="0.3" dy="2.6" font-size="5.4" style="font-style:italic;fill:#333;stroke:none">θθ</tspan><tspan x="233.6" dy="-2.6">equation (48)</tspan></text>
<path d="M196.1,531.9 H220.0" stroke="#E8AC38" stroke-width="0.8" fill="none" stroke-dasharray="2 2.1" stroke-opacity="0.85"/>
<text y="533.80" font-size="7" fill="#111"><tspan x="222.0" font-size="7" style="font-style:italic;fill:#333;stroke:none">σ</tspan><tspan dx="0.3" dy="2.6" font-size="5.4" style="font-style:italic;fill:#333;stroke:none">rr</tspan><tspan x="234.4" dy="-2.6">(FEM)</tspan></text>
<path d="M196.1,544.6 H220.0" stroke="#7E2F8E" stroke-width="0.8" fill="none" stroke-dasharray="2 2.1" stroke-opacity="0.7"/>
<text y="546.50" font-size="7" fill="#111"><tspan x="222.0" font-size="7" style="font-style:italic;fill:#333;stroke:none">σ</tspan><tspan dx="0.3" dy="2.6" font-size="5.4" style="font-style:italic;fill:#333;stroke:none">θθ</tspan><tspan x="233.6" dy="-2.6">(FEM)</tspan></text></svg></body></html>
